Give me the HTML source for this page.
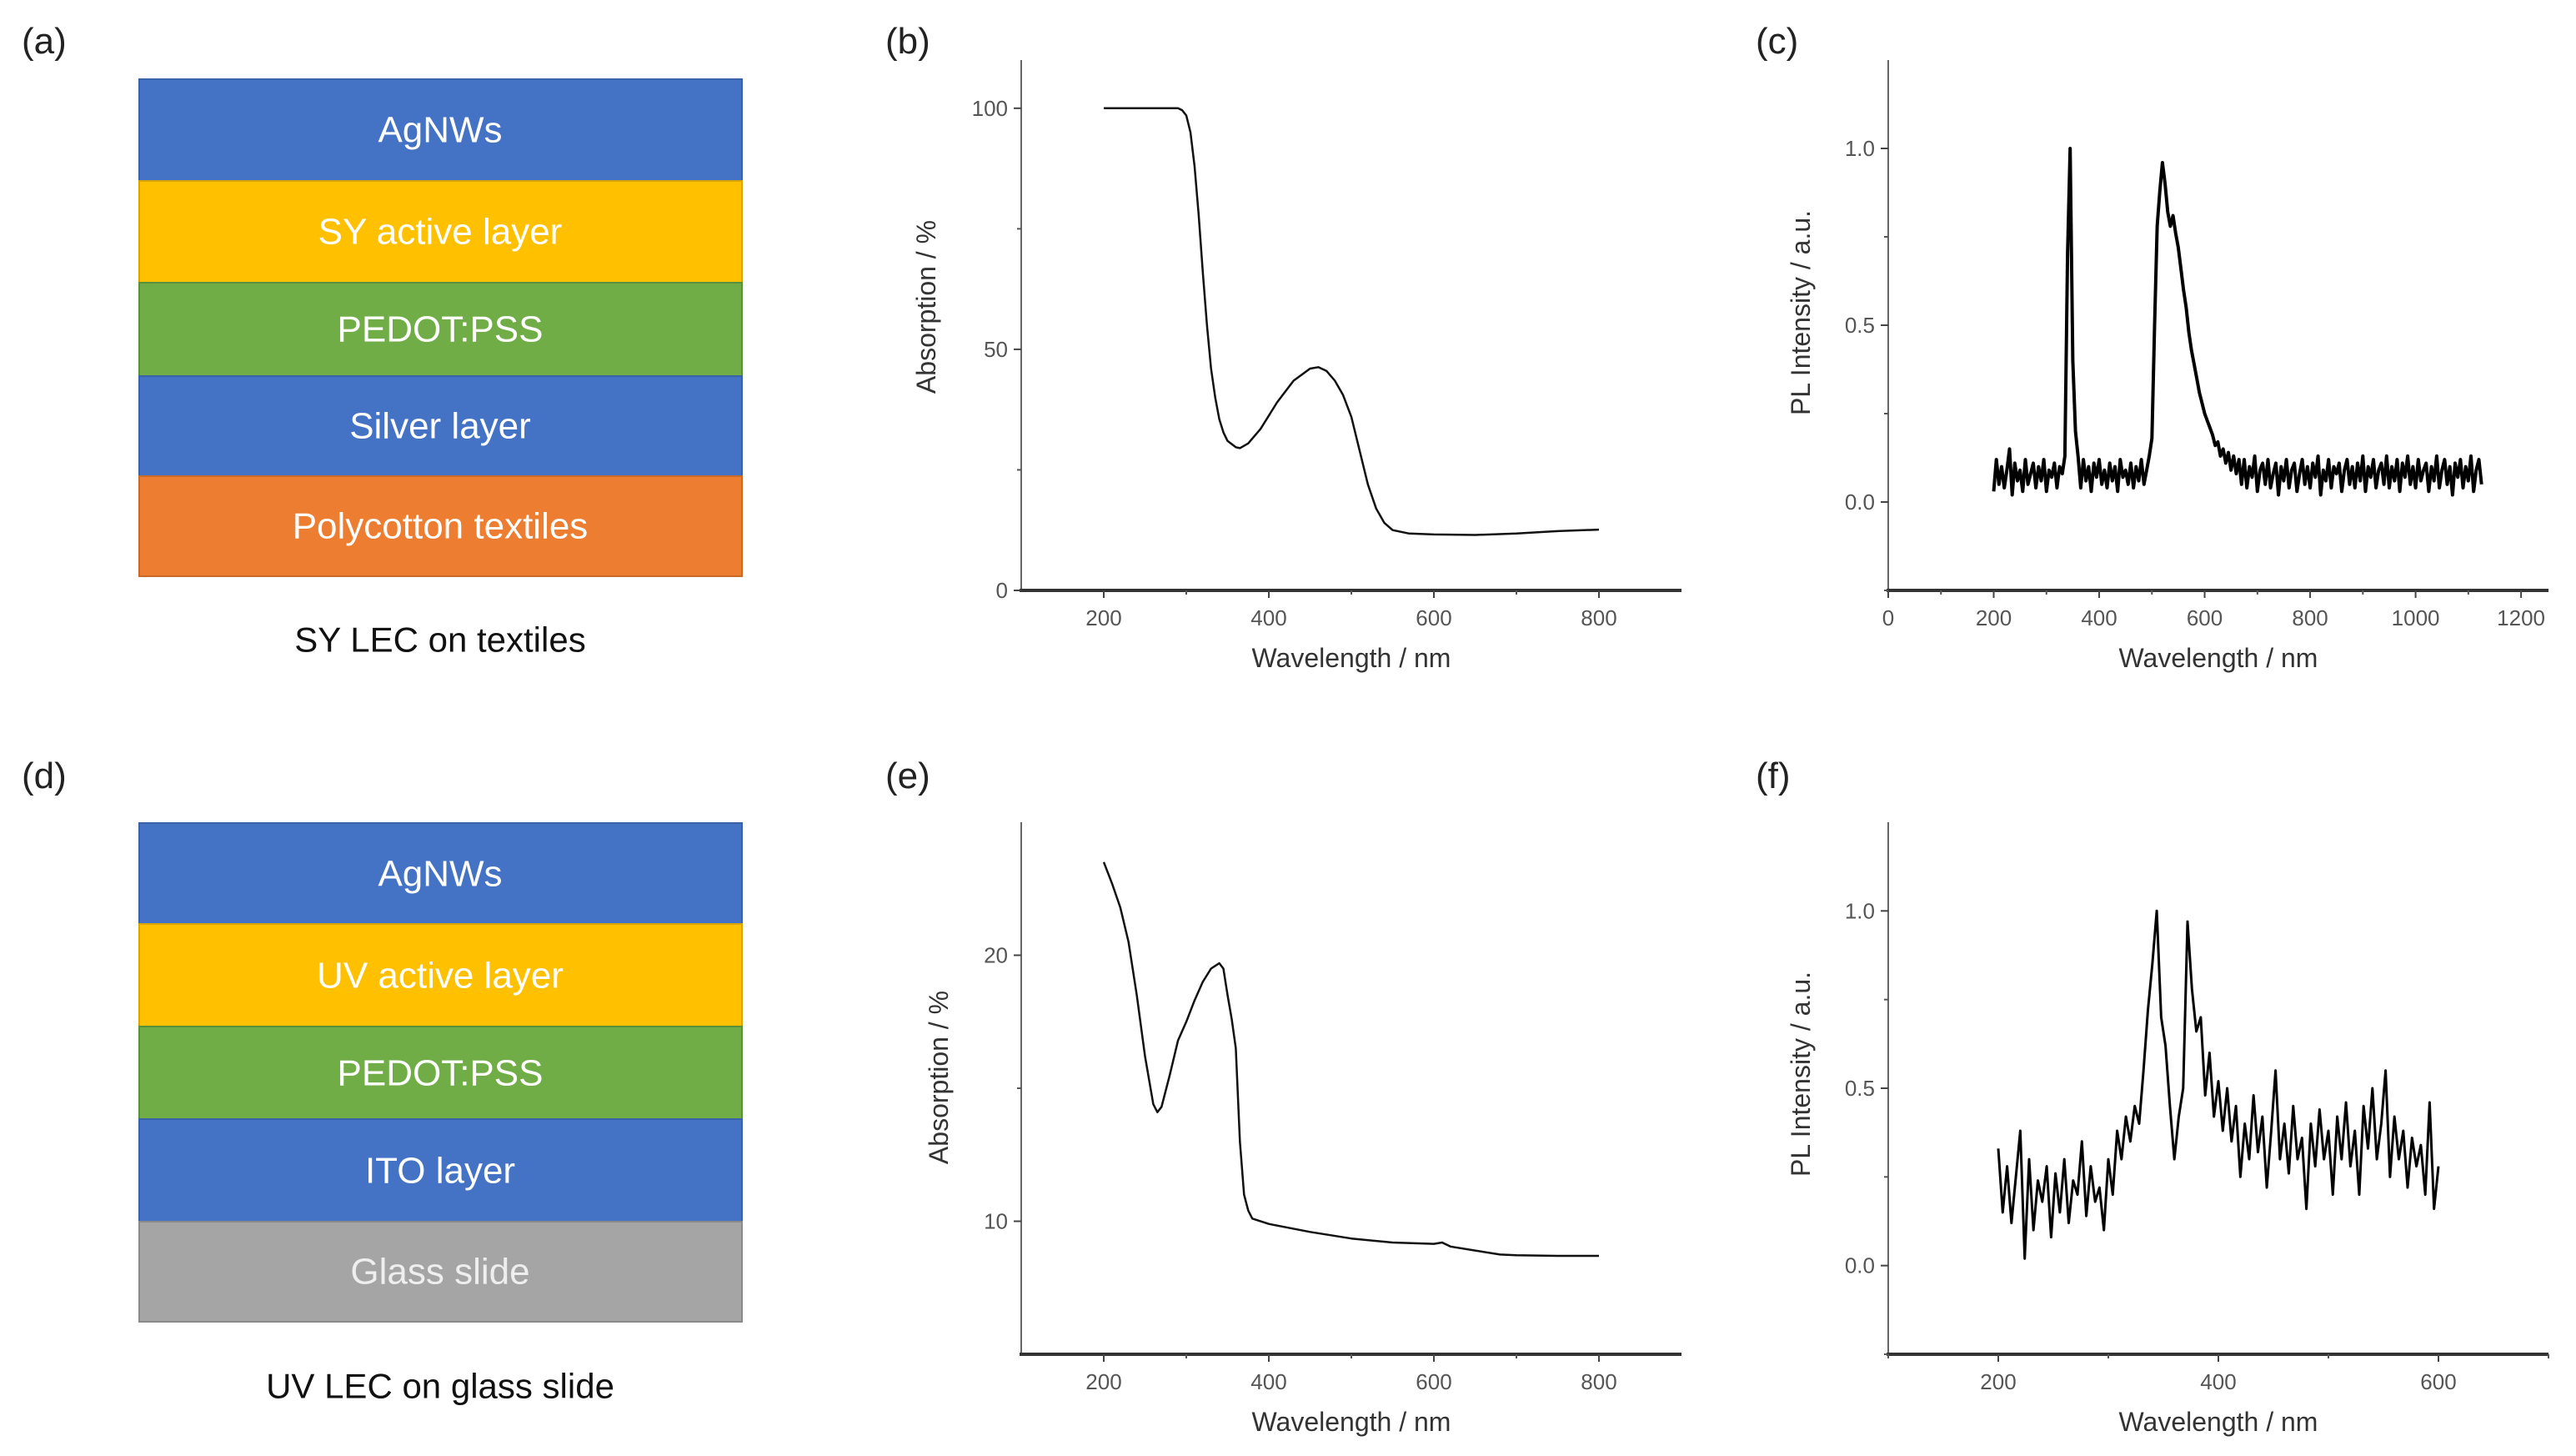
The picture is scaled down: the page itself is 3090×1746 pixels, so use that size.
<!DOCTYPE html>
<html>
<head>
<meta charset="utf-8">
<style>
html,body{margin:0;padding:0;background:#fff;}
svg{display:block;font-family:"Liberation Sans",Arial,sans-serif;}
</style>
</head>
<body>
<svg id="fig" width="3090" height="1746" viewBox="0 0 3090 1746" xmlns="http://www.w3.org/2000/svg">
  <rect x="0" y="0" width="3090" height="1746" fill="#ffffff"/>

  <text x="26" y="64" font-size="44" fill="#222">(a)</text>
  <text x="1062" y="64" font-size="44" fill="#222">(b)</text>
  <text x="2106" y="64" font-size="44" fill="#222">(c)</text>
  <text x="26" y="945" font-size="44" fill="#222">(d)</text>
  <text x="1062" y="945" font-size="44" fill="#222">(e)</text>
  <text x="2106" y="945" font-size="44" fill="#222">(f)</text>

  <g>
    <rect x="167" y="95" width="723" height="122" fill="#4472C4" stroke="#3a62a8" stroke-width="2"/>
    <rect x="167" y="217" width="723" height="122" fill="#FFC000" stroke="#d9a400" stroke-width="2"/>
    <rect x="167" y="339" width="723" height="112" fill="#70AD47" stroke="#5a9138" stroke-width="2"/>
    <rect x="167" y="451" width="723" height="120" fill="#4472C4" stroke="#3a62a8" stroke-width="2"/>
    <rect x="167" y="571" width="723" height="120" fill="#ED7D31" stroke="#c8692a" stroke-width="2"/>
    <g font-size="44" fill="#ffffff" text-anchor="middle" dominant-baseline="central">
      <text x="528" y="156">AgNWs</text>
      <text x="528" y="278">SY active layer</text>
      <text x="528" y="395">PEDOT:PSS</text>
      <text x="528" y="511">Silver layer</text>
      <text x="528" y="631">Polycotton textiles</text>
    </g>
    <text x="528" y="767" font-size="42" fill="#111" text-anchor="middle" dominant-baseline="central">SY LEC on textiles</text>
  </g>

  <g>
    <rect x="167" y="987" width="723" height="121" fill="#4472C4" stroke="#3a62a8" stroke-width="2"/>
    <rect x="167" y="1108" width="723" height="123" fill="#FFC000" stroke="#d9a400" stroke-width="2"/>
    <rect x="167" y="1231" width="723" height="111" fill="#70AD47" stroke="#5a9138" stroke-width="2"/>
    <rect x="167" y="1342" width="723" height="123" fill="#4472C4" stroke="#3a62a8" stroke-width="2"/>
    <rect x="167" y="1465" width="723" height="120" fill="#A5A5A5" stroke="#8a8a8a" stroke-width="2"/>
    <g font-size="44" fill="#ffffff" text-anchor="middle" dominant-baseline="central">
      <text x="528" y="1048">AgNWs</text>
      <text x="528" y="1170">UV active layer</text>
      <text x="528" y="1287">PEDOT:PSS</text>
      <text x="528" y="1404">ITO layer</text>
      <text x="528" y="1525" fill="#eeeeee">Glass slide</text>
    </g>
    <text x="528" y="1662" font-size="42" fill="#111" text-anchor="middle" dominant-baseline="central">UV LEC on glass slide</text>
  </g>

  <g id="chart-b"></g>
  <g id="chart-c"></g>
  <g id="chart-e"></g>
  <g id="chart-f"></g>
</svg>

<script>
const bWave = [200,290,295,300,305,310,315,320,325,330,335,340,345,350,360,365,375,390,410,430,450,460,470,480,490,500,510,520,530,540,550,570,600,650,700,750,800];
const bAbs  = [100,100,99.6,98.5,95,88,78,66,55,46,40,35.5,32.8,31,29.7,29.5,30.5,33.5,39,43.5,46,46.3,45.5,43.5,40.5,36,29,22,17,14,12.5,11.8,11.6,11.5,11.8,12.3,12.6];
const bXTicks = [200,400,600,800];
const bXMinor = [300,500,700];
const bYTicks = [0,50,100];
const bYMinor = [25,75];
const bYLabels = ["0","50","100"];

const cStart = 200;
const cStep = 5;
const cPL = [
0.03,0.12,0.05,0.10,0.04,0.09,0.15,0.02,0.11,0.06,0.09,0.03,0.12,0.05,0.08,0.11,0.04,0.10,0.06,0.12,0.03,0.09,0.07,0.11,0.04,0.10,0.08,0.13,
0.70,1.00,0.40,0.20,0.13,
0.04,0.12,0.06,0.10,0.03,0.11,0.07,0.12,0.05,0.09,0.04,0.11,0.06,0.10,0.03,0.12,0.07,0.09,0.05,0.11,0.04,0.10,0.06,0.12,0.05,0.09,0.13,
0.18,0.50,0.78,0.88,0.96,0.90,0.82,0.78,0.81,0.76,0.72,0.66,0.60,0.55,0.48,0.43,0.39,0.35,0.31,0.28,0.25,0.23,0.21,0.19,0.16,0.17,0.13,0.15,0.11,0.14,0.09,0.13,0.08,0.12,
0.05,0.12,0.04,0.10,0.07,0.13,0.03,0.09,0.11,0.05,
0.12,0.04,0.08,0.11,0.02,0.10,0.06,0.12,0.04,0.09,
0.11,0.03,0.08,0.12,0.05,0.10,0.04,0.11,0.07,0.13,
0.02,0.09,0.06,0.12,0.04,0.10,0.08,0.11,0.03,0.09,
0.12,0.05,0.10,0.04,0.11,0.06,0.13,0.03,0.10,0.07,
0.12,0.04,0.09,0.11,0.05,0.13,0.04,0.10,0.06,0.12,
0.03,0.11,0.07,0.13,0.05,0.10,0.04,0.12,0.06,0.09,
0.11,0.03,0.10,0.06,0.13,0.04,0.09,0.12,0.05,0.10,
0.02,0.11,0.07,0.12,0.04,0.10,0.06,0.13,0.03,0.09,
0.12,0.05];
const cXTicks = [0,200,400,600,800,1000,1200];
const cXMinor = [100,300,500,700,900,1100];
const cYTicks = [0,0.5,1.0];
const cYMinor = [-0.25,0.25,0.75];
const cYLabels = ["0.0","0.5","1.0"];

const eWave = [200,210,220,230,240,250,260,265,270,280,290,300,310,320,330,340,345,350,355,360,365,370,375,380,400,450,500,550,600,610,620,650,680,700,750,800];
const eAbs  = [23.5,22.7,21.8,20.5,18.5,16.2,14.4,14.1,14.3,15.5,16.8,17.5,18.3,19.0,19.5,19.7,19.5,18.5,17.6,16.5,13,11,10.4,10.1,9.9,9.6,9.35,9.2,9.15,9.2,9.05,8.9,8.75,8.72,8.7,8.7];
const eXTicks = [200,400,600,800];
const eXMinor = [300,500,700];
const eYTicks = [10,20];
const eYMinor = [15];
const eYLabels = ["10","20"];

const fStart = 200;
const fStep = 4;
const fPL = [
0.33,0.15,0.28,0.12,0.25,0.38,0.02,0.30,0.10,0.24,
0.18,0.28,0.08,0.26,0.15,0.30,0.12,0.24,0.20,0.35,
0.14,0.28,0.18,0.22,0.10,0.30,0.20,0.38,0.30,0.42,
0.35,0.45,0.40,0.55,0.72,0.85,1.00,0.70,0.62,0.45,
0.30,0.42,0.50,0.97,0.78,0.66,0.70,0.48,0.60,0.42,
0.52,0.38,0.50,0.35,0.45,0.25,0.40,0.30,0.48,0.32,
0.42,0.22,0.38,0.55,0.30,0.40,0.26,0.45,0.30,0.36,
0.16,0.40,0.28,0.44,0.30,0.38,0.20,0.42,0.30,0.46,
0.28,0.38,0.20,0.45,0.33,0.50,0.30,0.40,0.55,0.25,
0.42,0.30,0.38,0.22,0.36,0.28,0.34,0.20,0.46,0.16,
0.28];
const fXTicks = [200,400,600];
const fXMinor = [100,300,500,700];
const fYTicks = [0,0.5,1.0];
const fYMinor = [-0.25,0.25,0.75];
const fYLabels = ["0.0","0.5","1.0"];

const NS = "http://www.w3.org/2000/svg";
function mk(tag, attrs, parent){
  const el = document.createElementNS(NS, tag);
  for (const k in attrs) el.setAttribute(k, attrs[k]);
  parent.appendChild(el);
  return el;
}
function scale(d0,d1,r0,r1){ return v => r0 + (v-d0)/(d1-d0)*(r1-r0); }

function drawAxes(g, sx, sy, box, xt, xm, yt, ym, yl, yTitle, yTitleX){
  const ya = mk("line",{x1:box.x0,y1:box.yb,x2:box.x0,y2:box.yt,stroke:"#666","stroke-width":2},g);
  
  
  const xa = mk("line",{x1:box.x0-2,y1:box.yb,x2:box.x1,y2:box.yb,stroke:"#333","stroke-width":4},g);
  
  
  xt.forEach(v=>{
    const t = mk("line",{x1:sx(v),y1:box.yb,x2:sx(v),y2:box.yb+9,stroke:"#444","stroke-width":2},g);
    
    
    const lb = mk("text",{x:sx(v),y:box.yb+42,"font-size":26,fill:"#555","text-anchor":"middle"},g);
    lb.textContent = String(v);
    
    
  });
  xm.forEach(v=>{
    const t = mk("line",{x1:sx(v),y1:box.yb,x2:sx(v),y2:box.yb+5,stroke:"#555","stroke-width":2},g);
    
    
  });
  yt.forEach((v,i)=>{
    const t = mk("line",{x1:box.x0-9,y1:sy(v),x2:box.x0,y2:sy(v),stroke:"#444","stroke-width":2},g);
    
    
    const lb = mk("text",{x:box.x0-16,y:sy(v)+9,"font-size":26,fill:"#555","text-anchor":"end"},g);
    lb.textContent = yl[i];
    
    
  });
  ym.forEach(v=>{
    const t = mk("line",{x1:box.x0-5,y1:sy(v),x2:box.x0,y2:sy(v),stroke:"#555","stroke-width":2},g);
    
    
  });
  const xtl = mk("text",{x:(box.x0+box.x1)/2,y:box.yb+92,"font-size":32,fill:"#333","text-anchor":"middle"},g);
  xtl.textContent = "Wavelength / nm";
  
  
  const cy = box.titleY;
  const ytl = mk("text",{x:yTitleX,y:cy,"font-size":32,fill:"#333","text-anchor":"middle",transform:"rotate(-90 "+yTitleX+" "+cy+")"},g);
  ytl.textContent = yTitle;
  
  
}

function linePath(xs, ys, sx, sy){
  let d = "";
  for (let i=0;i<xs.length;i++) d += (i?"L":"M") + sx(xs[i]).toFixed(1) + " " + sy(ys[i]).toFixed(1);
  return d;
}

(function(){
  const g = document.getElementById("chart-b");
  const box = {x0:1225,x1:2017,yb:708,yt:72,titleY:368};
  const sx = scale(100,900,box.x0,box.x1), sy = scale(0,110,box.yb,box.yt);
  drawAxes(g,sx,sy,box,bXTicks,bXMinor,bYTicks,bYMinor,bYLabels,"Absorption / %",1122);
  const p = mk("path",{d:linePath(bWave,bAbs,sx,sy),fill:"none",stroke:"#111","stroke-width":2.5,"stroke-linejoin":"round"},g);
  
  
})();

(function(){
  const g = document.getElementById("chart-c");
  const box = {x0:2265,x1:3057,yb:708,yt:72,titleY:375};
  const sx = scale(0,1252,box.x0,box.x1), sy = scale(-0.25,1.25,box.yb,box.yt);
  drawAxes(g,sx,sy,box,cXTicks,cXMinor,cYTicks,cYMinor,cYLabels,"PL Intensity / a.u.",2171);
  const xs = cPL.map((v,i)=>cStart+i*cStep);
  const p = mk("path",{d:linePath(xs,cPL,sx,sy),fill:"none",stroke:"#000","stroke-width":4,"stroke-linejoin":"round"},g);
  
  
})();

(function(){
  const g = document.getElementById("chart-e");
  const box = {x0:1225,x1:2017,yb:1624,yt:986,titleY:1292};
  const sx = scale(100,900,box.x0,box.x1), sy = scale(5,25,box.yb,box.yt);
  drawAxes(g,sx,sy,box,eXTicks,eXMinor,eYTicks,eYMinor,eYLabels,"Absorption / %",1137);
  const p = mk("path",{d:linePath(eWave,eAbs,sx,sy),fill:"none",stroke:"#111","stroke-width":2.5,"stroke-linejoin":"round"},g);
  
  
})();

(function(){
  const g = document.getElementById("chart-f");
  const box = {x0:2265,x1:3057,yb:1624,yt:986,titleY:1288};
  const sx = scale(100,700,box.x0,box.x1), sy = scale(-0.25,1.25,box.yb,box.yt);
  drawAxes(g,sx,sy,box,fXTicks,fXMinor,fYTicks,fYMinor,fYLabels,"PL Intensity / a.u.",2171);
  const xs = fPL.map((v,i)=>fStart+i*fStep);
  const p = mk("path",{d:linePath(xs,fPL,sx,sy),fill:"none",stroke:"#000","stroke-width":3,"stroke-linejoin":"round"},g);
  
  
})();
</script>
</body>
</html>
